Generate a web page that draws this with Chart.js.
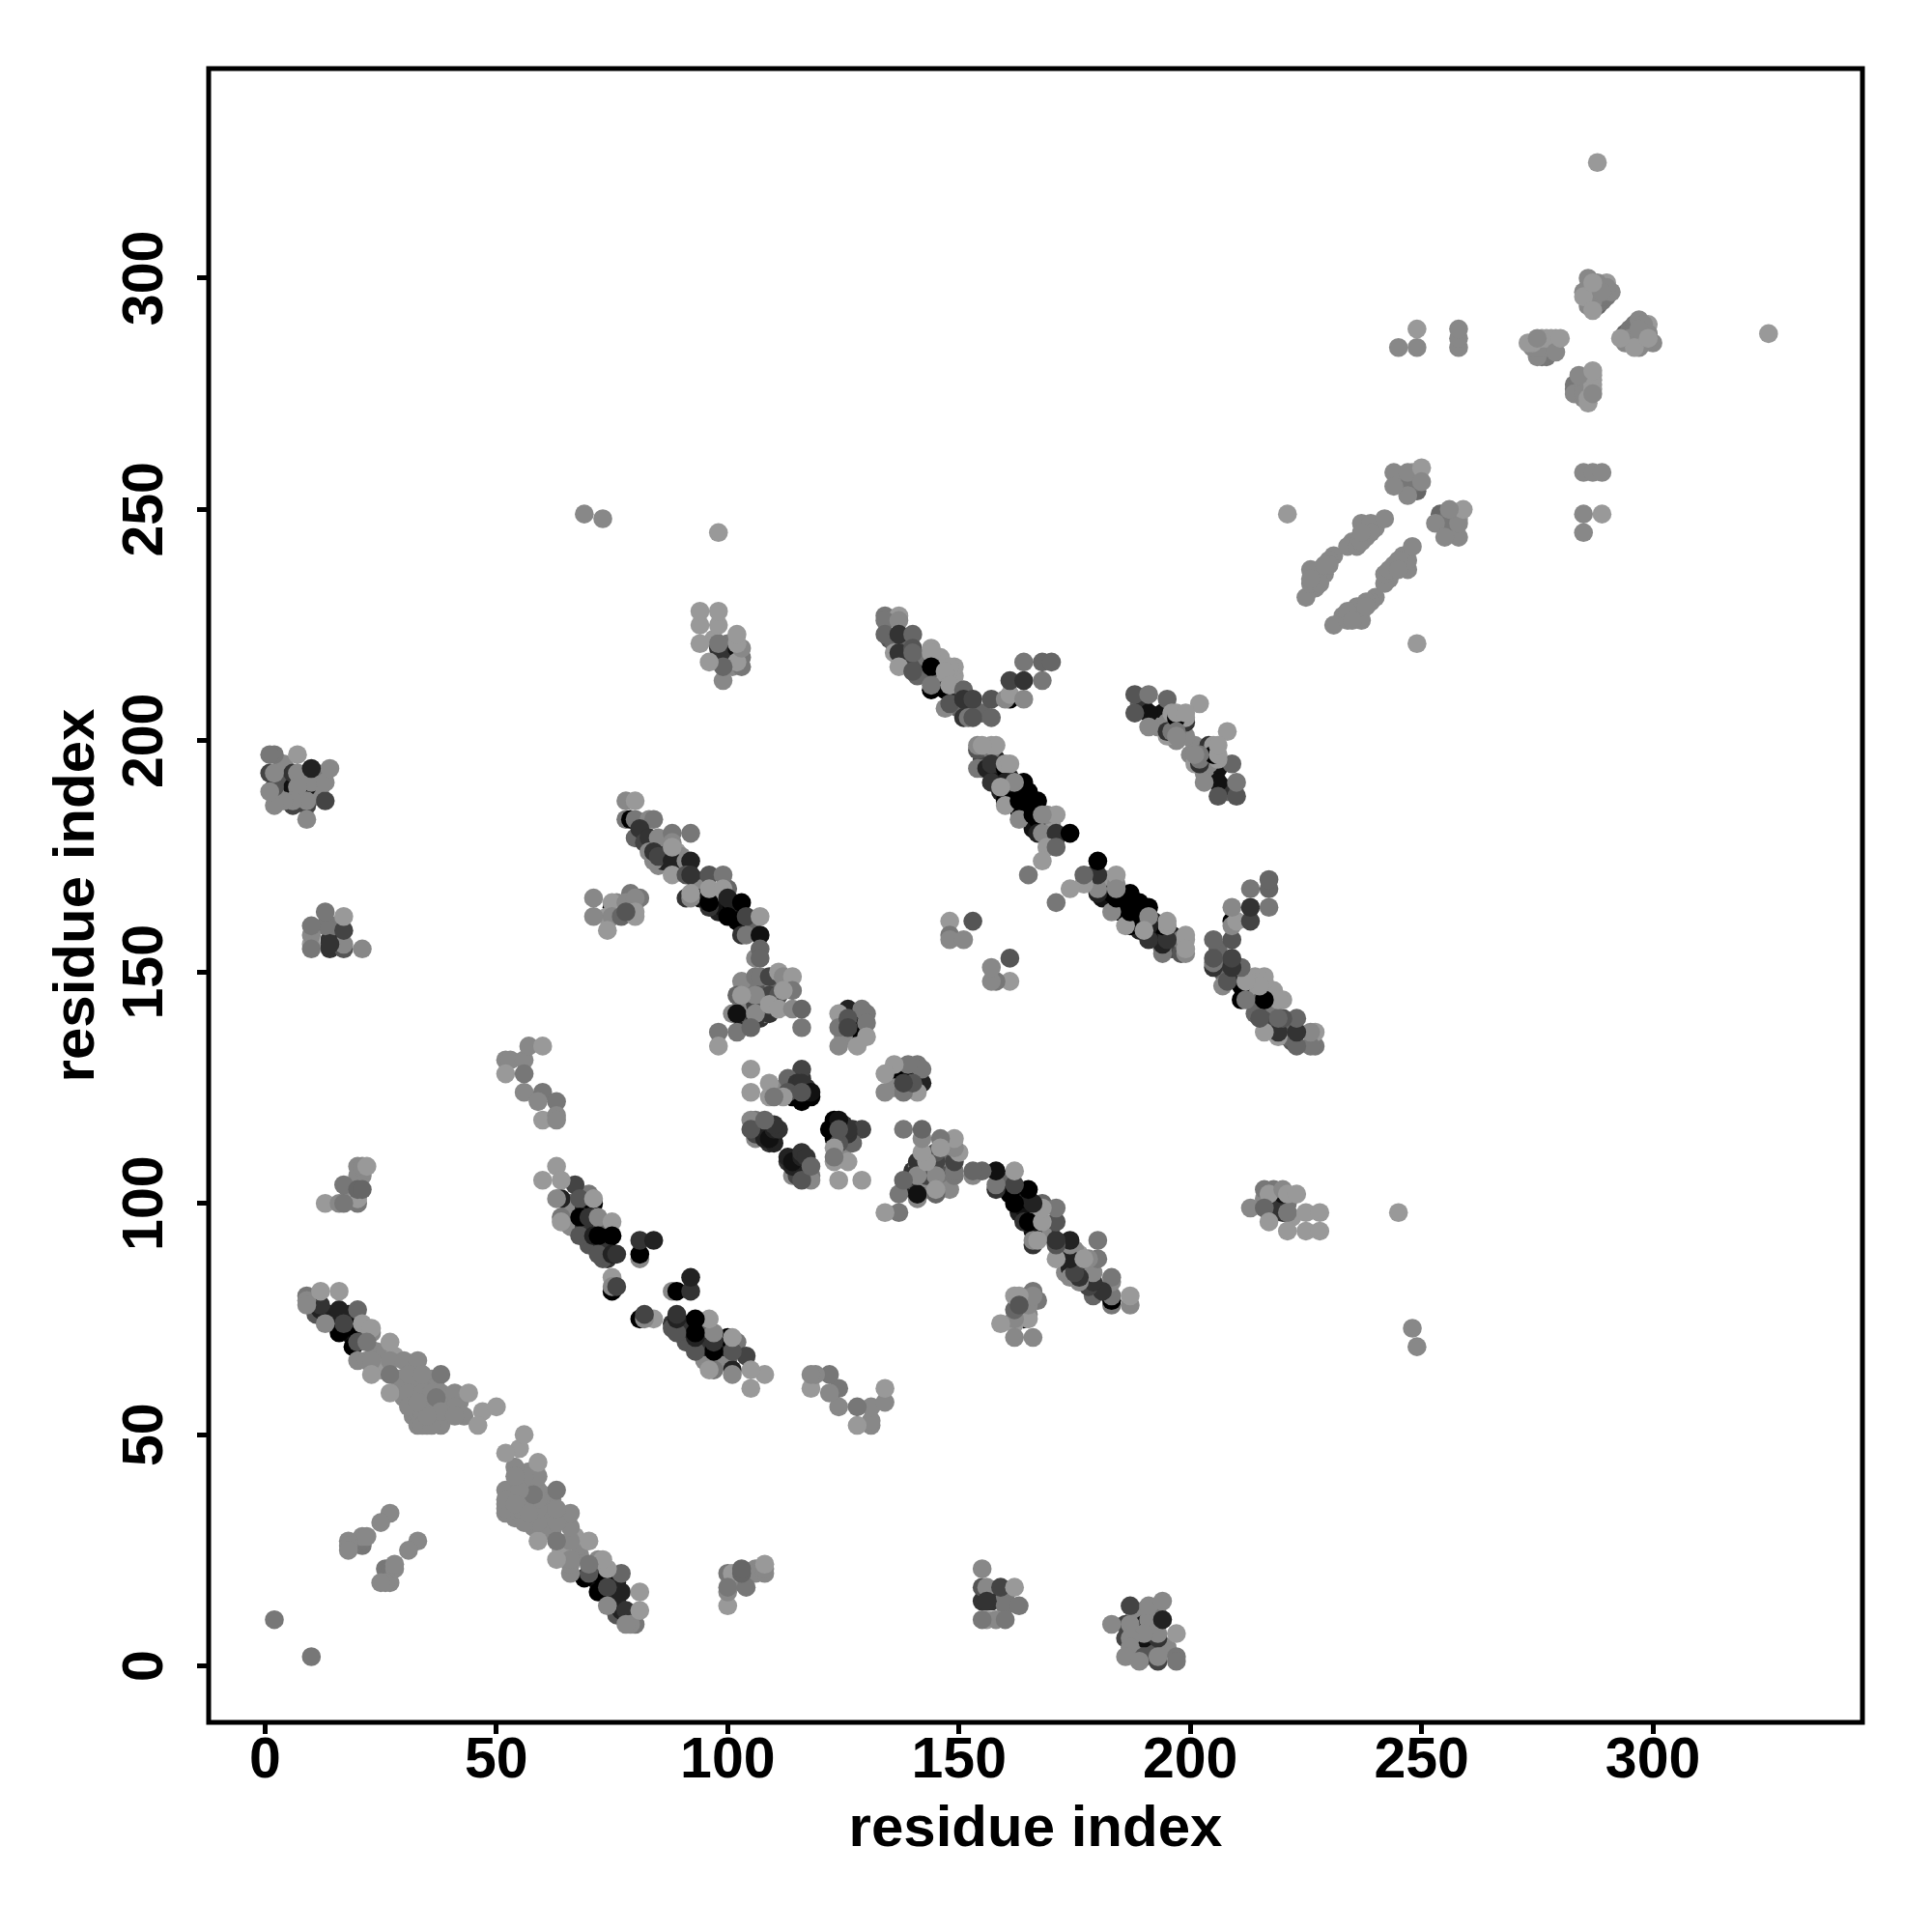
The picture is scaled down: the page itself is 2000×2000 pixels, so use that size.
<!DOCTYPE html>
<html>
<head>
<meta charset="utf-8">
<script src="https://cdn.jsdelivr.net/npm/chart.js@4"></script>
<style>
html, body { margin: 0; padding: 0; background: #fff; }
canvas { display: block; }
</style>
</head>
<body>
<canvas id="contactMap" width="2000" height="2000"></canvas>
<script>
// each contact is [residue i, residue j, score], score 0 (darkest) to 9 (lightest)
// listed once with i < j, the map shows it at (i,j) and (j,i)
const tickValues = [0, 50, 100, 150, 200, 250, 300];
const axisTitle = "residue index";

const singles = [[2,10,7],[69,249,8],[73,248,8],[98,245,9],[221,249,9],[288,325,9]];

const bandOne = [
  [14,75,3],[11,76,5],[14,76,3],[15,75,2],[18,76,2],[18,72,1],[20,73,5],[22,71,6],[23,72,8],
  [24,68,8],[26,68,8],[28,67,9],[25,64,9],[29,62,8],[32,61,8],[35,61,8],[33,60,8],[36,62,8],
  [37,60,8],[39,58,8],[32,54,8],[35,52,8],[37,53,8],[40,57,8],[29,60,8],[30,58,8],[33,55,8],
  [36,54,8],[39,56,8],[42,57,8],
  [16,72,0],[19,73,0],[19,69,0],[12,77,2],[16,77,2],[17,74,4],[12,78,3],[20,70,5],
  [9,80,7],[9,79,8],[9,78,8],[12,81,9],[16,81,9],[20,77,6],[13,74,8],[21,74,9],[23,73,9],
  [22,70,7],[27,70,9],[20,66,8],[22,66,8],[23,66,8],[27,66,8],[23,63,9],[27,63,7],
  [30,66,8],[33,66,8],[31,63,8],[34,63,8],[38,63,7],[27,59,9],[31,59,8],[34,59,8],[38,59,8],
  [41,59,8],[44,59,9],[31,56,8],[34,55,8],[37,55,7],[41,56,8],[43,54,8],[47,55,9],[50,56,9],
  [46,52,9],[33,52,8],[34,52,8],[38,52,8],[36,52,8],[36,56,8],[36,59,8],[37,58,7],[38,55,8],
  [35,54,8],[33,57,8],[41,54,8]
];
const besideBandOne = [
  [21,26,7],[21,27,7],[27,33,8],[25,31,8],[21,28,8],[22,28,8],[18,27,8],[18,26,8],[18,25,8]
];
const clusterA = [
  [3,193,8],[3,191,7],[4,189,8],[5,191,5],[8,188,7],[8,192,6],[11,188,8],[11,193,7],[12,190,8],[4,195,8],
  [9,190,1],[6,190,1],[9,186,4],[6,186,4],[6,193,3],[13,187,4],[9,183,8],[9,187,8],[10,191,8],
  [13,191,8],[14,194,8],[7,197,9],[7,193,8],[7,190,8],[6,187,8],[4,187,8],[2,190,5],[1,193,4],
  [2,186,8],[1,189,8],[2,193,8],[2,197,7],[1,197,7],[10,194,2]
];
const clusterB = [
  [14,157,3],[15,160,7],
  [14,155,3],[17,155,5],[17,156,8],[17,159,4],[17,162,9],[14,156,3],[13,160,7],[13,163,7],
  [10,156,9],[10,158,8],[10,160,7],[21,155,8],[10,155,7]
];
const clusterC = [
  [18,103,7],[19,101,8],[21,106,8],[20,106,8],
  [20,100,7],[20,101,9],[17,104,7],[20,103,6],[21,103,6],[20,108,8],[21,108,8],[22,108,9],
  [13,100,9],[16,100,8],[17,100,7]
];
const clusterD = [
  [52,131,8],[53,131,8],[56,131,8],[57,134,8],[60,134,9],[52,128,9],[56,128,7],[56,124,8],
  [60,124,7],[59,122,8],[63,122,7],[60,118,9],[63,119,8],[63,118,8]
];
const bandTwo = [
  [66,100,6],[66,99,8],[69,99,2],[70,102,7],[66,97,8],[66,95,8],[69,95,3],[73,95,6],[74,92,0],
  [70,91,5],[73,91,3],[74,88,3],[73,88,5],
  [71,100,0],[64,101,2],[63,101,8],[67,104,4],[63,108,9],[60,105,9],[64,105,9],[68,101,5],[71,101,9],
  [64,97,7],[64,96,9],[68,97,0],[70,97,3],[72,97,8],[75,96,9],[68,93,5],[71,93,2],[72,93,0],[75,93,0],
  [72,89,5],[75,89,2],[76,89,3],[81,88,8],[81,89,0],[81,92,3],[84,92,2],
  [75,81,0],[75,84,9],[75,82,8],[76,82,4]
];
const clusterE = [
  [78,183,7],[79,183,0],[80,183,7],[78,187,8],[80,187,9],[83,183,8],[84,183,7],[80,179,6]
];
const bandThree = [
  [81,181,3],[82,178,4],[86,177,4],[87,175,3],[85,173,8],[86,174,2],[89,174,2],[89,176,9],[90,175,8],
  [90,172,3],[93,170,4],[94,168,8],[94,166,1],[97,166,1],[98,163,2],[99,164,1],[101,164,0],[102,163,1],
  [105,159,6],[102,161,0],[97,167,9],[100,168,6],[101,165,2],
  [83,179,3],[85,179,8],[88,180,7],[92,180,7],[84,174,8],[83,176,8],[84,176,3],[85,175,4],
  [88,174,2],[88,178,8],[88,177,9],[88,171,9],[91,174,8],[92,174,2],[91,171,5],[92,171,3],
  [96,171,5],[99,171,7],[91,166,3],[92,166,8],[92,167,9],[96,164,3],[96,165,0],[96,168,9],[99,168,9],
  [100,166,2],[103,165,0],[100,162,0],[104,162,4],[107,162,9],[103,158,3],[104,158,7],[107,158,1],
  [106,153,8],[107,155,6],[107,153,6]
];
const clusterF = [
  [103,140,2],[105,140,5],[107,140,3],[104,141,5],[105,143,6],[104,146,6],[105,147,7],[108,146,5],
  [108,148,5],[110,147,8],[110,144,8],[107,143,7],[108,141,7],[104,143,8],[103,143,8],[111,147,6],
  [101,141,8],[102,141,1],[106,140,3],[109,141,3],[106,143,4],[109,145,4],[111,145,5],
  [103,148,8],[106,149,7],[107,149,7],[109,149,4],[111,150,9],[112,149,8],[114,149,9],[114,146,7],
  [106,145,8],[102,145,6],[103,145,9],[112,146,9],[106,141,8],[109,143,9],[111,142,9],
  [114,142,8],[116,142,6],[116,138,7],[98,137,7],[98,134,9],[102,137,7],[105,138,6]
];
const clusterG = [
  [125,139,3],[127,141,4],[127,139,2],[128,137,0],[130,141,7],[125,137,7],[125,136,8],
  [129,138,0],[126,142,2],[129,142,7],[124,141,9],[124,138,7],[126,140,5],[126,138,4],
  [130,139,7],[130,136,9],[124,134,8],[128,134,9]
];
const clusterH = [
  [114,123,0],[116,122,0],[118,123,0],[115,124,2],[117,125,3],[114,126,3],[116,127,3],[112,125,8],
  [115,123,0],[117,123,0],[116,129,4],[113,127,6],[115,126,3],[116,126,3],[118,124,1],[113,124,5],
  [116,124,5],[105,129,9],[105,124,9],[109,126,9],[109,123,9],[112,123,9],[110,123,7]
];
const clusterI = [
  [107,115,1],[108,116,2],[109,116,2],[106,116,7],[106,118,7],[107,117,3],[110,115,1],[109,115,2],[108,115,1],
  [106,114,8],[106,115,4],[107,116,3],[109,113,3],[110,113,2],[108,114,2],[108,117,2],
  [109,114,1],[110,116,2],[111,116,3],[110,117,3],[105,118,8],[105,116,5],[108,118,6]
];
const clusterJ = [
  [76,165,8],[77,164,8],[76,163,8],[79,165,7],[79,167,7],[80,165,7],
  [75,164,0],[75,165,9],[78,165,8],[81,166,7],[80,166,8],[74,162,9],[75,162,8],[77,162,6],
  [80,162,9],[74,159,9],[71,162,8],[71,166,8],[80,163,9],[78,163,5]
];
const clusterK = [
  [100,219,6],[101,218,4],[100,221,7],[100,218,4],[97,222,9],[99,219,3],[103,218,7],[101,216,8],
  [102,220,1],[99,217,3],[98,220,3],[103,216,7],[102,217,9],[103,220,8],[102,221,9],[102,223,9],
  [99,213,8],[99,216,6],[98,221,7],[98,225,9],[98,228,9],[96,217,9],[94,221,9],[94,225,9],[94,228,9]
];
const bandFour = [
  [135,222,5],[136,221,6],[138,222,4],[139,218,4],[139,221,6],[142,217,5],[141,214,6],[143,214,6],
  [145,215,3],[146,213,6],[143,218,7],[149,214,9],[149,210,3],[150,207,6],[152,208,4],[155,206,6],
  [146,218,9],[149,216,9],[147,213,9],
  [134,227,7],[137,227,9],[134,226,7],[137,226,8],[134,223,6],[137,223,3],[140,223,6],
  [136,219,9],[137,219,3],[140,220,5],[140,219,6],[144,220,9],[144,219,9],[137,216,9],
  [140,215,5],[144,216,0],[148,216,9],[147,215,9],[147,211,0],[144,211,0],[144,212,7],
  [148,212,9],[151,211,6],[147,207,8],[148,208,5],[151,209,3],[153,209,4],[151,205,3],
  [152,205,7],[153,205,5],[157,209,5],[157,205,6],[161,209,0],[160,209,8],[161,210,9],
  [161,213,4],[164,209,8],[164,213,3],[168,213,7],[164,217,7],[168,217,6],[170,217,6]
];
const bandFive = [
  [155,196,4],[158,196,2],[159,193,1],[161,192,2],[162,188,0],[159,189,2],[161,189,0],[165,189,0],
  [166,186,0],[165,185,0],[163,185,0],[167,184,0],[168,182,1],[166,181,1],[169,181,8],[170,182,9],
  [171,179,4],[165,186,1],[163,189,0],[161,187,0],[161,191,2],[158,191,1],[158,195,3],[155,194,6],
  [167,183,0],[164,184,0],[164,187,0],[164,191,0],
  [154,198,5],[154,199,8],[157,198,7],[157,199,9],[154,194,7],[156,194,2],[157,195,3],[160,194,0],
  [160,195,9],[157,191,3],[160,191,2],[162,191,8],[160,187,0],[160,186,9],[163,187,0],
  [167,187,0],[163,183,8],[166,184,0],[169,184,8],[171,184,9],[168,184,8],
  [167,180,2],[168,180,8],[171,180,3],[174,180,0],[169,177,9],[171,177,6],[168,174,9],[165,171,7],
  [161,195,9],[158,199,9],[155,199,9],[159,190,9]
];
const clusterL = [
  [189,208,6],[190,207,3],[193,205,2],[194,206,1],[193,203,8],[195,204,8],[197,203,6],[198,203,8],
  [198,205,6],[197,200,8],[199,201,8],
  [191,206,1],[188,206,5],[188,210,5],[191,210,7],[195,209,6],[191,203,8],[196,206,9],[199,204,3],
  [199,205,9],[202,208,9],[195,201,9],[195,202,3],[196,202,7],[197,205,0],[197,206,9],[199,206,9],
  [197,202,7],[197,201,8]
];
const clusterM = [[148,161,9],[153,161,5],[148,158,7],[148,157,8],[151,157,8]];
const stripOne = [
  [227,236,8],[227,233,8],[228,237,8],[229,236,8],[231,240,8],[235,243,8],[238,246,8],[238,244,8],
  [240,246,8],[245,256,8],[246,257,8],[248,257,8],[248,256,8],[248,258,9],
  [225,231,8],[226,237,8],[226,234,8],[228,234,8],[226,235,8],[230,239,8],[230,238,8],[229,238,8],
  [234,242,8],[236,242,8],[237,243,8],[237,247,8],[239,247,8],[239,245,8],[237,245,8],[242,248,8],
  [249,254,6],[249,256,7],[247,255,7],[247,253,8],[244,258,8],[244,255,8],[247,258,8],[250,259,9],[250,256,8]
];
const pairsNearTop = [
  [258,285,8],[258,287,8],[258,289,8],[249,285,8],[249,289,9],[245,285,8]
];
const clusterP = [
  [276,283,7],[277,283,7],[278,284,7],[275,283,8],[277,285,8],[278,286,8],[276,285,8],[274,285,8],[275,285,8],
  [274,286,9],[276,287,9],[277,287,9],[278,287,9],[279,287,9],[279,284,8],[280,287,9],
  [273,286,9],[275,287,8]
];
const clusterQ = [
  [288,294,6],[289,295,7],[290,296,7],[289,296,7],[288,297,8],[286,300,8],[290,299,9],[285,297,8],[291,297,8],
  [286,294,8],[287,295,8],[287,297,8],[288,299,8],[290,298,8],[286,298,8],[285,296,9],[287,293,9],
  [289,297,8],[287,299,9]
];

const contactLists = [singles, bandOne, besideBandOne, clusterA, clusterB, clusterC, clusterD, bandTwo,
  clusterE, bandThree, clusterF, clusterG, clusterH, clusterI, clusterJ, clusterK, bandFour, bandFive,
  clusterL, clusterM, stripOne, pairsNearTop, clusterP, clusterQ];

function shadeOf(score) {
    const g = score * 17;
    return "rgb(" + g + "," + g + "," + g + ")";
}

let points = [];
let colors = [];
contactLists.forEach(function (list) {
    list.forEach(function (c) {
        points.push({x: c[1], y: c[0]});
        colors.push(shadeOf(c[2]));
    });
});
contactLists.forEach(function (list) {
    list.forEach(function (c) {
        points.push({x: c[0], y: c[1]});
        colors.push(shadeOf(c[2]));
    });
});

const tickFont = {family: "'Liberation Sans'", size: 59, weight: "bold"};
const titleFont = {family: "'Liberation Sans'", size: 60, weight: "bold"};

// the box around the plot
const frame = {
    id: "frame",
    afterDraw: function (chart) {
        const a = chart.chartArea;
        const ctx = chart.ctx;
        ctx.save();
        ctx.strokeStyle = "#000";
        ctx.lineWidth = 5;
        ctx.strokeRect(a.left, a.top, a.right - a.left, a.bottom - a.top);
        ctx.restore();
    }
};

function useTickValues(scale) {
    scale.ticks = tickValues.map(function (v) { return {value: v}; });
}

new Chart(document.getElementById("contactMap").getContext("2d"), {
    type: "scatter",
    data: {
        datasets: [{
            data: points,
            pointBackgroundColor: colors,
            pointBorderWidth: 0,
            pointRadius: 9.8
        }]
    },
    options: {
        responsive: false,
        animation: false,
        layout: {padding: {top: 71, right: 72, left: 0, bottom: 0}},
        plugins: {legend: {display: false}, tooltip: {enabled: false}},
        scales: {
            x: {
                type: "linear",
                min: -12.2,
                max: 345.3,
                grid: {drawOnChartArea: false, color: "#000", lineWidth: 5, tickLength: 12},
                border: {display: false},
                ticks: {color: "#000", font: tickFont, padding: -7, autoSkip: false, maxRotation: 0, includeBounds: false},
                title: {display: true, text: axisTitle, color: "#000", font: titleFont, padding: {top: 0, bottom: 70}},
                afterBuildTicks: useTickValues,
                afterFit: function (scale) { scale.height = 217; }
            },
            y: {
                type: "linear",
                min: -12.2,
                max: 345.3,
                grid: {drawOnChartArea: false, color: "#000", lineWidth: 5, tickLength: 12},
                border: {display: false},
                ticks: {color: "#000", font: tickFont, padding: 3, autoSkip: false, minRotation: 90, maxRotation: 90, crossAlign: "center", includeBounds: false},
                title: {display: true, text: axisTitle, color: "#000", font: titleFont, padding: {top: 44, bottom: 0}},
                afterBuildTicks: useTickValues,
                afterFit: function (scale) { scale.width = 216; }
            }
        }
    },
    plugins: [frame]
});
</script>
</body>
</html>
